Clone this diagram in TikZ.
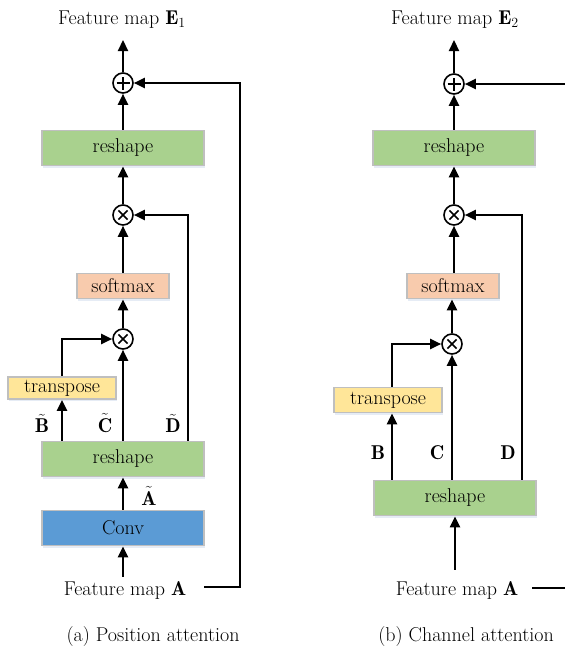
\RequirePackage{fix-cm}
\documentclass[tikz,border=0pt]{standalone}
\usepackage{fontspec}
\usetikzlibrary{arrows.meta,calc,shadows}
\definecolor{boxgreen}{HTML}{A9D18E}
\definecolor{boxpeach}{HTML}{F8CBAD}
\definecolor{boxyellow}{HTML}{FFE699}
\definecolor{boxblue}{HTML}{5B9BD5}
\definecolor{boxline}{HTML}{BFBFBF}
\definecolor{shade}{HTML}{9DB3D6}
\begin{document}
\begin{tikzpicture}[x=1pt,y=1pt,
  font=\fontsize{20}{24}\selectfont,
  arr/.style={line width=2.2pt,-{Triangle[length=11pt,width=10pt]}},
  blk/.style={draw=boxline,line width=1.8pt,inner sep=0pt,
    drop shadow={shadow xshift=0.5pt,shadow yshift=-2pt,fill=shade,opacity=0.25}},
  wide/.style={blk,minimum width=162pt,minimum height=35pt},
  txt/.style={inner sep=0pt},
  opc/.style={circle,draw,line width=1.6pt,minimum size=20pt,inner sep=0pt},
  oplus/.style={opc,path picture={
      \draw[line width=1.6pt] ([xshift=-6.5pt]path picture bounding box.center) -- ([xshift=6.5pt]path picture bounding box.center);
      \draw[line width=1.6pt] ([yshift=-6.5pt]path picture bounding box.center) -- ([yshift=6.5pt]path picture bounding box.center);}},
  otimes/.style={opc,path picture={
      \draw[line width=1.6pt] ([shift={(-4.6pt,-4.6pt)}]path picture bounding box.center) -- ([shift={(4.6pt,4.6pt)}]path picture bounding box.center);
      \draw[line width=1.6pt] ([shift={(-4.6pt,4.6pt)}]path picture bounding box.center) -- ([shift={(4.6pt,-4.6pt)}]path picture bounding box.center);}}
]
\useasboundingbox (0,0) rectangle (565,-651);

% ---------- (a) position attention ----------
\node[txt] (e1) at (122,-20) {Feature map $\mathbf{E}_1$};
\coordinate (o1) at (123,-40);
\node[oplus] (p1) at (123,-83) {};
\node[wide,fill=boxgreen] (r1) at (123,-148) {reshape};
\node[otimes] (m1) at (123,-215) {};
\node[blk,fill=boxpeach,minimum width=92pt,minimum height=25pt] (s1) at (123,-286) {softmax};
\node[otimes] (m2) at (123,-339) {};
\node[blk,fill=boxyellow,minimum width=108pt,minimum height=22pt] (t1) at (62,-388) {transpose};
\node[wide,fill=boxgreen] (r2) at (123,-459) {reshape};
\node[wide,fill=boxblue] (cv) at (123,-528) {Conv};
\node[txt] (a1) at (125,-590) {Feature map $\mathbf{A}$};
\node[txt] (cap1) at (153,-637) {(a) Position attention};
\coordinate (k1) at (240,-587);

\node[txt] (lb1) at (42,-423) {$\tilde{\mathbf{B}}$};
\node[txt] (lc1) at (105,-423) {$\tilde{\mathbf{C}}$};
\node[txt] (ld1) at (173,-423) {$\tilde{\mathbf{D}}$};
\node[txt] (la1) at (149,-496) {$\tilde{\mathbf{A}}$};

\draw[arr] (p1.north) -- (o1);
\draw[arr] (r1.north) -- (p1.south);
\draw[arr] (m1.north) -- (r1.south);
\draw[arr] (s1.north) -- (m1.south);
\draw[arr] (m2.north) -- (s1.south);
\draw[arr] (t1.north) |- (m2.west);
\draw[arr] (r2.north -| t1.south) -- (t1.south);
\draw[arr] (r2.north -| m2.south) -- (m2.south);
\draw[arr] ([xshift=65pt]r2.north) |- (m1.east);
\draw[arr] (cv.north) -- (r2.south);
\draw[arr] ([yshift=4pt]a1.north -| cv.south) -- (cv.south);
\draw[arr] ([xshift=18pt]a1.east |- k1) -- (k1) |- (p1.east);

% ---------- (b) channel attention ----------
\node[txt] (e2) at (455,-20) {Feature map $\mathbf{E}_2$};
\coordinate (o2) at (454,-40);
\node[oplus] (p2) at (454,-84) {};
\node[wide,fill=boxgreen] (r3) at (454,-148) {reshape};
\node[otimes] (m3) at (454,-215) {};
\node[blk,fill=boxpeach,minimum width=92pt,minimum height=25pt] (s2) at (453,-286) {softmax};
\node[otimes] (m4) at (452,-344) {};
\node[blk,fill=boxyellow,minimum width=108pt,minimum height=25pt] (t2) at (388,-400) {transpose};
\node[wide,fill=boxgreen] (r4) at (455,-498) {reshape};
\node[txt] (a2) at (457,-590) {Feature map $\mathbf{A}$};
\node[txt] (cap2) at (466,-637) {(b) Channel attention};
\coordinate (k2) at (590,-588);

\node[txt] (lb2) at (378,-453) {$\mathbf{B}$};
\node[txt] (lc2) at (437,-453) {$\mathbf{C}$};
\node[txt] (ld2) at (508,-453) {$\mathbf{D}$};

\draw[arr] (p2.north) -- (o2);
\draw[arr] (r3.north) -- (p2.south);
\draw[arr] (m3.north) -- (r3.south);
\draw[arr] (s2.north -| m3.south) -- (m3.south);
\draw[arr] (m4.north) -- (s2.south -| m4.north);
\draw[arr] ([xshift=4pt]t2.north) |- (m4.west);
\draw[arr] ([xshift=-63pt]r4.north) -- ([xshift=4pt]t2.south);
\draw[arr] (r4.north -| m4.south) -- (m4.south);
\draw[arr] ([xshift=67pt]r4.north) |- (m3.east);
\draw[arr] ([yshift=11pt]a2.north -| r4.south) -- (r4.south);
\draw[arr] ([xshift=14pt]a2.east |- k2) -- (k2) |- (p2.east);
\end{tikzpicture}
\end{document}
